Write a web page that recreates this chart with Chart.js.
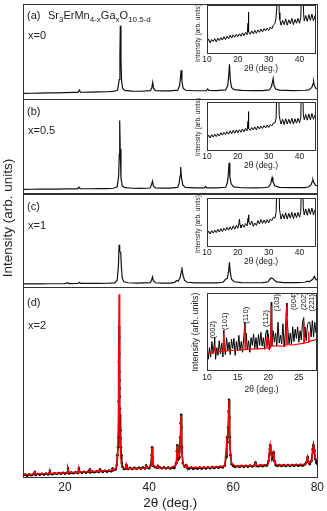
<!DOCTYPE html>
<html>
<head>
<meta charset="utf-8">
<script src="https://cdn.jsdelivr.net/npm/chart.js@4.4.1/dist/chart.umd.min.js"></script>
<style>
  html, body { margin: 0; padding: 0; background: #fff; }
  #fig { position: relative; width: 327px; height: 511px; overflow: hidden; font-family: "Liberation Sans", Arial, sans-serif; color: #222; }
  #fig canvas { position: absolute; }
  .lbl { position: absolute; font-size: 11px; line-height: 12px; white-space: nowrap; }
  .lbl sub { font-size: 8px; vertical-align: -3px; line-height: 0; }
  #ytitle { position: absolute; left: -72px; top: 210px; width: 160px; text-align: center; font-size: 13.5px; line-height: 16px; transform: rotate(-90deg); }
  .ititle { position: absolute; width: 100px; text-align: center; font-size: 6.6px; line-height: 8px; white-space: nowrap; transform: rotate(-90deg); }
</style>
</head>
<body>
<div id="fig">
  <canvas id="main" width="327" height="511" style="left:0;top:0"></canvas>
  <canvas id="insA" width="124" height="74" style="left:194px;top:0px"></canvas>
  <canvas id="insB" width="124" height="77" style="left:194px;top:94px"></canvas>
  <canvas id="insC" width="124" height="77" style="left:194px;top:190px"></canvas>
  <canvas id="insD" width="129" height="110" style="left:190px;top:285px"></canvas>

  <div class="lbl" style="left:27px;top:9px">(a)</div>
  <div class="lbl" style="left:48px;top:9px">Sr<sub>3</sub>ErMn<sub>4-x</sub>Ga<sub>x</sub>O<sub>10.5-d</sub></div>
  <div class="lbl" style="left:28px;top:29px">x=0</div>
  <div class="lbl" style="left:27px;top:105px">(b)</div>
  <div class="lbl" style="left:28px;top:124px">x=0.5</div>
  <div class="lbl" style="left:27px;top:200px">(c)</div>
  <div class="lbl" style="left:28px;top:219px">x=1</div>
  <div class="lbl" style="left:27px;top:296px">(d)</div>
  <div class="lbl" style="left:28px;top:319px">x=2</div>
  <div id="ytitle">Intensity (arb. units)</div>
  <div class="ititle" style="left:148px;top:29px">Intensity (arb. units)</div>
  <div class="ititle" style="left:148px;top:123px">Intensity (arb. units)</div>
  <div class="ititle" style="left:148px;top:220px">Intensity (arb. units)</div>
  <div class="ititle" style="left:145px;top:327px;font-size:9px;line-height:10px">Intensity (arb. units)</div>
</div>

<script>
// main panels: [2θ, intensity] (arb. units, per panel)
const patternA = [[10,6],[12,6.2],[14,6.4],[16,6.5],[18,6.6],[20,6.8],[22,7],[23.1,7.1],[23.4,9.5],[23.7,7.2],[26,7.3],[28,7.5],[30,7.7],[31.5,8],[32.5,9.5],[32.9,20],[33.05,45],[33.15,74],[33.3,40],[33.45,18],[33.7,11],[34.2,9],[36,8.3],[38,8.2],[40.3,8.8],[40.65,12],[40.85,17],[41.05,11],[41.5,8.8],[43,8.5],[45,8.5],[46.8,9.3],[47.25,14],[47.45,22],[47.6,29.3],[47.8,18],[48.1,11],[48.7,9.2],[51,8.7],[53.6,8.9],[53.9,10.5],[54.2,9],[56,8.8],[58.2,9.5],[58.7,14],[58.95,25],[59.1,35.3],[59.3,20],[59.6,12],[60.2,9.8],[62,9],[65,8.8],[67,8.9],[68.6,9.5],[69.1,13],[69.35,18],[69.5,21],[69.7,14],[70.1,10.5],[71,9.3],[74,8.9],[77,9.2],[78,9.6],[78.7,12],[79.0,16],[79.1,18],[79.3,14],[79.7,11],[80,10.5]]
const patternB = [[10,4.5],[12,4.6],[14,4.7],[16,4.8],[18,4.8],[20,4.9],[22,5],[23.0,5],[23.3,6.8],[23.6,5.1],[26,5.1],[28,5.2],[30,5.3],[31.5,5.6],[32.4,7],[32.75,18],[32.9,40],[33.0,73.7],[33.12,45],[33.3,16],[33.6,8],[34.2,6.2],[36,5.6],[38,5.5],[40.2,5.8],[40.55,9],[40.8,12.7],[41,8],[41.5,6],[43,5.7],[45,5.7],[46.8,6.5],[47.15,11],[47.35,18],[47.5,27],[47.7,16],[48,9],[48.6,6.5],[51,5.9],[53.1,6],[53.4,7.5],[53.7,6],[56,6],[58.2,6.6],[58.6,11],[58.85,20],[59.0,31.3],[59.2,17],[59.5,10],[60.1,7],[62,6.1],[65,6],[67,6.1],[68.4,6.8],[68.9,10],[69.1,14],[69.25,16.3],[69.45,12],[69.9,8],[71,6.4],[74,6.2],[77,6.3],[77.9,6.8],[78.5,9],[78.8,12.5],[78.95,14.3],[79.2,11],[79.6,8.5],[80,8]]
const patternC = [[10,3.3],[12,3.4],[14,3.4],[16,3.5],[18,3.5],[20,3.6],[20.6,4.6],[21,3.6],[23.1,3.7],[23.4,5],[23.7,3.8],[26,3.8],[28,3.9],[30,4],[31.8,4.3],[32.4,7],[32.7,22],[32.85,42.7],[33.0,36],[33.25,35],[33.4,20],[33.6,9],[34,5.5],[35,4.5],[37,4.2],[40.3,4.6],[40.6,7.5],[40.8,10.3],[41,6.5],[41.5,4.5],[43,4.2],[45,4.2],[46.1,4.8],[46.5,6.7],[46.9,6],[47.4,10],[47.65,16],[47.8,20],[48.0,13],[48.4,7],[49,5],[51,4.3],[54,4.3],[56,4.4],[57.6,5],[58.2,8.3],[58.6,9],[58.9,16],[59.1,25],[59.3,15],[59.6,8],[60.2,5.5],[62,4.6],[65,4.5],[67,4.6],[68.3,5.5],[68.7,8],[69.0,9.3],[69.4,8.8],[69.8,7],[70.3,5.3],[72,4.7],[75,4.7],[77,5],[77.6,6],[78.1,5.4],[78.9,8],[79.3,11],[79.6,8],[80,7]]
const observedD = [[10,1.5],[10.5,2.5],[11,1.2],[11.5,2.6],[12,1.8],[12.5,2.9],[12.8,5],[13,2],[13.5,3],[14,2.2],[14.5,3.1],[15,2.4],[15.5,3.4],[16,2.6],[16.4,6],[16.5,3.5],[17,2.8],[17.5,3.8],[18,3],[18.5,3.9],[19,3.2],[19.5,4.2],[20,3.4],[20.5,4.4],[20.7,8.5],[21,3.6],[21.5,4.6],[22,3.8],[22.5,4.8],[23,4],[23.3,8.5],[23.5,5],[24,4.2],[24.5,5.2],[25,4.4],[25.5,5.4],[25.9,7.5],[26,4.6],[26.5,5.6],[27,4.8],[27.5,5.8],[28,5],[28.3,7.5],[28.5,6],[29,5.2],[29.5,6.2],[30,5.4],[30.5,6.4],[31,5.8],[31.3,8.5],[31.5,6.8],[32,7.5],[32.3,12],[32.45,22],[32.6,30],[32.7,40],[32.75,76],[32.8,116],[32.85,151],[32.88,141],[32.9,124],[32.93,106],[32.96,97],[33.0,89],[33.03,81],[33.06,69],[33.1,62],[33.15,47],[33.2,39],[33.3,30],[33.4,22],[33.5,14],[33.7,10],[34,8],[34.5,8.5],[34.6,12],[35,8],[35.5,9],[36,8],[36.5,9.2],[37,8.2],[37.5,9.3],[38,8.4],[38.5,9.4],[39,8.6],[39.3,11.5],[39.5,9.5],[40,8.8],[40.4,12],[40.6,22],[40.7,30],[40.8,20],[41,11],[41.5,9.8],[42,9],[42.1,11],[42.5,9.8],[43,8.8],[43.5,9.8],[44,8.6],[44.5,9.6],[45,8.6],[45.5,9.6],[46,9],[46.4,14],[46.6,26],[46.7,32],[46.85,24],[47,18],[47.2,20],[47.4,40],[47.5,54],[47.6,62.7],[47.7,50],[47.8,30],[48,14],[48.4,10.5],[48.8,12],[49,9.6],[49.5,8.4],[50,9.4],[50.5,8.2],[51,9.2],[51.5,8.3],[52,9.4],[52.5,8.4],[53,9.6],[53.5,8.6],[54,9.8],[54.5,8.8],[55,9.9],[55.5,9],[56,10],[56.5,9.2],[57,10.2],[57.5,9.6],[58,11.5],[58.3,20],[58.5,40],[58.65,35],[58.8,50],[58.9,66],[59.0,77.7],[59.1,60],[59.2,40],[59.35,22],[59.6,13],[60,11],[60.5,10],[61,11],[61.5,10],[62,11.2],[62.5,10.2],[63,11.2],[63.5,10.4],[64,11.4],[64.5,10.6],[65,11.6],[65.3,14.5],[65.6,11],[66,10.8],[66.5,11.8],[67,10.8],[67.5,11.8],[68,11.5],[68.4,16],[68.7,28],[68.8,32],[68.95,24],[69.2,18],[69.5,24],[69.6,25],[69.8,16],[70.1,12],[70.5,11],[71,12],[71.5,11],[72,12],[72.5,11],[73,12],[73.5,11],[74,12],[74.5,11.2],[75,12.2],[75.5,11.2],[76,12.2],[76.5,11.4],[77,12.6],[77.4,15],[77.7,20],[77.9,15],[78.2,13],[78.6,16],[78.9,28],[79.05,32],[79.2,26],[79.3,27],[79.5,18],[79.8,14],[80,16]]
const calculatedD = [[10,2.5],[12.6,2.8],[12.8,5],[13,3],[16.2,3.4],[16.4,6],[16.6,3.6],[20.5,4.2],[20.7,8],[20.9,4.4],[23.1,4.8],[23.3,8],[23.5,5],[25.7,5.2],[25.9,7],[26.1,5.4],[28.1,5.8],[28.3,7],[28.5,6],[31.1,6.6],[31.3,8],[31.5,6.8],[32.2,9],[32.5,20],[32.7,60],[32.85,184],[33.0,80],[33.1,40],[33.25,20],[33.5,10],[34.4,8.5],[34.6,12],[34.8,8.6],[37,8.6],[39.1,8.8],[39.3,11],[39.5,9],[40.5,11],[40.7,30],[40.9,12],[41.9,9.5],[42.1,11],[42.3,9.3],[45,9],[46.4,12],[46.7,32],[46.95,20],[47.3,25],[47.6,62],[47.85,22],[48.2,11],[48.6,10],[48.8,12],[49,9.8],[52,9.5],[55,9.8],[58,11],[58.5,40],[58.75,45],[59.0,78],[59.25,30],[59.6,14],[60.5,11],[63,11],[65.1,11.5],[65.3,14],[65.5,11.5],[68.3,12.5],[68.8,32],[69.15,20],[69.6,25],[69.9,14],[70.5,12],[74,12],[77.3,13],[77.7,20],[78.0,14],[78.7,16],[79.05,32],[79.3,27],[79.6,18],[80,17]]

// insets: [2θ, intensity], 0..100 = inset frame height
const insetA = [[10,22],[10.5,29],[11,21],[11.5,28],[12,24],[12.5,30],[13,23],[13.5,31],[14,26],[14.5,32],[15,27],[15.5,34],[16,28],[16.5,35],[17,30],[17.5,37],[18,31],[18.5,38],[19,33],[19.5,39],[20,34],[20.5,40],[21,35],[21.5,42],[22,36],[22.5,43],[23,38],[23.3,62],[23.4,85],[23.55,44],[24,39],[24.5,46],[25,40],[25.5,47],[26,41],[26.5,48],[27,43],[27.5,50],[28,44],[28.5,51],[29,46],[29.5,52],[30,47],[30.5,54],[31,50],[31.5,58],[32,61],[32.3,70],[32.6,92],[32.8,150],[33.2,150],[33.4,84],[33.6,70],[34,58],[34.5,68],[35,59],[35.5,71],[36,58],[36.5,69],[37,61],[37.5,72],[38,59],[38.5,70],[39,62],[39.5,72],[40,62],[40.4,75],[40.7,150],[41.1,150],[41.3,82],[41.5,67],[42,78],[42.5,66],[43,80],[43.5,68],[44,81],[44.5,67],[45,78]]
const insetB = [[10,24],[10.5,31],[11,25],[11.5,32],[12,27],[12.5,33],[13,28],[13.5,34],[14,29],[14.5,36],[15,31],[15.5,37],[16,32],[16.5,38],[17,33],[17.5,40],[18,34],[18.5,41],[19,35],[19.5,42],[20,36],[20.5,42],[21,37],[21.5,44],[22,38],[22.5,45],[23,40],[23.3,60],[23.4,80],[23.55,45],[24,41],[24.5,47],[25,42],[25.5,48],[26,42],[26.5,49],[27,44],[27.5,50],[28,45],[28.5,51],[29,46],[29.5,52],[30,47],[30.5,53],[31,50],[31.5,56],[32,56],[32.4,66],[32.7,150],[33.2,150],[33.4,72],[33.7,62],[34,54],[34.5,64],[35,53],[35.5,65],[36,54],[36.5,64],[37,55],[37.5,66],[38,54],[38.5,65],[39,56],[39.5,66],[40,57],[40.4,68],[40.6,150],[41,150],[41.2,76],[41.5,63],[42,74],[42.5,62],[43,75],[43.5,63],[44,76],[44.5,64],[45,73]]
const insetC = [[10,24],[10.5,31],[11,25],[11.5,32],[12,27],[12.5,33],[13,28],[13.5,35],[14,29],[14.5,36],[15,30],[15.5,37],[16,32],[16.5,39],[17,33],[17.5,40],[18,34],[18.5,42],[19,35],[19.5,43],[20,37],[20.3,46],[20.5,56],[20.7,44],[21,38],[21.5,45],[22,39],[22.5,47],[23,42],[23.3,58],[23.45,65],[23.6,50],[24,44],[24.5,52],[25,41],[25.5,48],[26,43],[26.5,53],[27,46],[27.5,55],[28,47],[28.5,54],[29,47],[29.5,55],[30,48],[30.5,56],[31,53],[31.5,60],[32,58],[32.4,70],[32.7,150],[33.3,150],[33.5,76],[33.8,64],[34,56],[34.5,67],[35,57],[35.5,69],[36,56],[36.5,68],[37,58],[37.5,70],[38,57],[38.5,69],[39,59],[39.5,70],[40,60],[40.4,72],[40.6,150],[41,150],[41.2,80],[41.5,65],[42,77],[42.5,64],[43,78],[43.5,66],[44,79],[44.5,65],[45,76]]
const insetDObs = [[10,31],[10.2,14],[10.4,29],[10.6,17],[10.8,37],[11,21],[11.2,35],[11.25,42],[11.4,14],[11.6,29],[11.8,19],[12,38],[12.2,21],[12.4,35],[12.6,17],[12.75,52],[12.8,33],[13,20],[13.2,42],[13.4,25],[13.6,36],[13.8,20],[14,40],[14.2,28],[14.4,41],[14.6,19],[14.8,37],[15,25],[15.2,45],[15.4,25],[15.6,37],[15.8,23],[16,42],[16.2,62],[16.3,30],[16.4,48],[16.6,26],[16.8,38],[17,23],[17.2,42],[17.4,32],[17.6,47],[17.8,28],[18,42],[18.2,27],[18.4,46],[18.6,32],[18.8,49],[19,31],[19.2,42],[19.4,27],[19.6,48],[19.8,52],[19.9,33],[20,47],[20.2,26],[20.4,45],[20.5,88],[20.55,70],[20.6,31],[20.8,51],[21,36],[21.2,48],[21.4,31],[21.6,62],[21.8,35],[22,45],[22.2,34],[22.4,60],[22.6,30],[22.8,49],[23,87],[23.05,70],[23.2,53],[23.4,34],[23.6,48],[23.8,33],[24,56],[24.2,37],[24.4,53],[24.6,41],[24.8,56],[25,36],[25.2,51],[25.4,39],[25.6,62],[25.8,68],[25.9,42],[26,56],[26.2,38],[26.4,59],[26.6,62],[26.8,62],[27,43],[27.2,64],[27.4,43],[27.6,62],[27.8,48]]
const insetDCalc = [[10,21.7],[11.1,23],[11.27,30],[11.45,23.3],[12.6,24.3],[12.75,47.6],[12.9,24.6],[15,26],[16.05,26.5],[16.2,58.4],[16.35,26.8],[19.65,28],[19.8,43],[19.95,28.3],[20.38,29],[20.5,83],[20.62,31],[21,31.5],[22,31],[22.88,31.5],[23.0,82],[23.12,33],[24,32.5],[25.68,34.5],[25.8,61],[25.92,35],[26.5,36],[26.6,50],[26.7,37],[27.8,39.5]]

const mainTicks = [20, 40, 60, 80]
const insetTicks = [10, 20, 30, 40]
const insetDTicks = [10, 15, 20, 25]

const hklLabels = ['(002)', '(101)', '(110)', '(112)', '(103)', '(004)', '(202)', '(221)']
const hklAngles = [11.03, 12.95, 16.3, 19.7, 21.5, 24.26, 25.85, 27.2]
const hklLevels = [41, 52, 60, 56, 76, 78, 78, 76]

const FONT = '"Liberation Sans", Arial, sans-serif'
Chart.defaults.font.family = FONT
Chart.defaults.color = '#222'

const toXY = arr => arr.map(([x, y]) => ({ x, y }))
const fixTicks = list => scale => { scale.ticks = list.map(v => ({ value: v })) }

// draws the box round each panel
const panelFrame = {
    id: 'panelFrame',
    afterDraw(chart, args, opts) {
        const { ctx, chartArea } = chart
        ctx.save()
        ctx.strokeStyle = '#333'
        ctx.lineWidth = 1
        const ids = opts.axes || [null]
        ids.forEach(id => {
            const top = id ? chart.scales[id].top : chartArea.top
            const bottom = id ? chart.scales[id].bottom : chartArea.bottom
            ctx.strokeRect(Math.round(chartArea.left) + 0.5, Math.round(top) + 0.5,
                Math.round(chartArea.right - chartArea.left), Math.round(bottom - top))
        })
        ctx.restore()
    }
}

const hklText = {
    id: 'hklText',
    afterDatasetsDraw(chart, args, opts) {
        if (!opts.labels) return
        const { ctx, scales } = chart
        ctx.save()
        ctx.font = '7.5px ' + FONT
        ctx.fillStyle = '#111'
        ctx.textAlign = 'left'
        ctx.textBaseline = 'middle'
        opts.labels.forEach((t, i) => {
            ctx.save()
            ctx.translate(scales.x.getPixelForValue(opts.angles[i]), scales.y.getPixelForValue(opts.levels[i]))
            ctx.rotate(-Math.PI / 2)
            ctx.fillText(t, 0, 0)
            ctx.restore()
        })
        ctx.restore()
    }
}

const panelY = (weight) => ({
    type: 'linear', position: 'left', stack: 'panels', stackWeight: weight,
    min: 0, max: weight, display: false
})

const line = (data, axis, color, width) => ({
    data: toXY(data), yAxisID: axis, showLine: true,
    borderColor: color, borderWidth: width, pointRadius: 0, order: 1
})

new Chart(document.getElementById('main'), {
    type: 'scatter',
    data: {
        datasets: [
            line(patternA, 'ya', '#111', 1.2),
            line(patternB, 'yb', '#111', 1.2),
            line(patternC, 'yc', '#111', 1.2),
            { ...line(calculatedD, 'yd', '#ff0000', 1.4), order: 0 },
            { ...line(observedD, 'yd', '#000', 1.5), pointRadius: 1.3, pointBackgroundColor: '#000', pointBorderWidth: 0 }
        ]
    },
    options: {
        responsive: false,
        devicePixelRatio: 1,
        animation: false,
        events: [],
        layout: { padding: { left: 23, right: 9, top: 1, bottom: 0 } },
        plugins: {
            legend: { display: false },
            tooltip: { enabled: false },
            panelFrame: { axes: ['ya', 'yb', 'yc', 'yd'] }
        },
        scales: {
            x: {
                type: 'linear', min: 10, max: 80,
                afterBuildTicks: fixTicks(mainTicks),
                afterFit: s => { s.height = 34 },
                ticks: { font: { size: 12 }, color: '#222', padding: 3 },
                grid: { display: false, drawTicks: false },
                border: { display: false },
                title: { display: true, text: '2θ (deg.)', font: { size: 13.5 }, color: '#222', padding: { top: 0, bottom: 0 } }
            },
            yd: panelY(191),
            yc: panelY(94),
            yb: panelY(95),
            ya: panelY(96)
        }
    },
    plugins: [panelFrame]
})

function inset(id, datasets, xMax, ticks, o) {
    new Chart(document.getElementById(id), {
        type: 'scatter',
        data: { datasets },
        options: {
            responsive: false,
            devicePixelRatio: 1,
            animation: false,
            events: [],
            layout: { padding: { left: 0, right: 3, top: o.pt, bottom: 0 } },
            plugins: {
                legend: { display: false },
                tooltip: { enabled: false },
                panelFrame: {},
                hklText: o.hkl || {}
            },
            scales: {
                x: {
                    type: 'linear', min: 10, max: xMax,
                    afterBuildTicks: fixTicks(ticks),
                    afterFit: s => { s.height = o.xh },
                    ticks: { font: { size: 8.5 }, color: '#222', padding: o.tp },
                    grid: { display: false, drawTicks: false },
                    border: { display: false },
                    title: { display: true, text: '2θ (deg.)', font: { size: 8.5 }, color: '#222', padding: 0 }
                },
                // y title is an html label beside the canvas (it is longer than the frame)
                y: {
                    type: 'linear', min: 0, max: 100,
                    afterFit: s => { s.width = o.yw },
                    ticks: { display: false },
                    grid: { display: false, drawTicks: false },
                    border: { display: false },
                    title: { display: false }
                }
            }
        },
        plugins: [panelFrame, hklText]
    })
}

const insetLine = (data, color, width) => ({
    data: toXY(data), showLine: true, borderColor: color, borderWidth: width, pointRadius: 0
})

inset('insA', [insetLine(insetA, '#000', 1)], 45, insetTicks, { pt: 5, xh: 21, yw: 13, tp: 2 })
inset('insB', [insetLine(insetB, '#000', 1)], 45, insetTicks, { pt: 8, xh: 21, yw: 13, tp: 2 })
inset('insC', [insetLine(insetC, '#000', 1)], 45, insetTicks, { pt: 8, xh: 21, yw: 13, tp: 2 })
inset('insD', [
    { ...insetLine(insetDCalc, '#ff0000', 1.2), order: 0 },
    { ...insetLine(insetDObs, '#000', 1), order: 1 }
], 27.8, insetDTicks, {
    pt: 8, xh: 25, yw: 17, tp: 3,
    hkl: { labels: hklLabels, angles: hklAngles, levels: hklLevels }
})
</script>
</body>
</html>
